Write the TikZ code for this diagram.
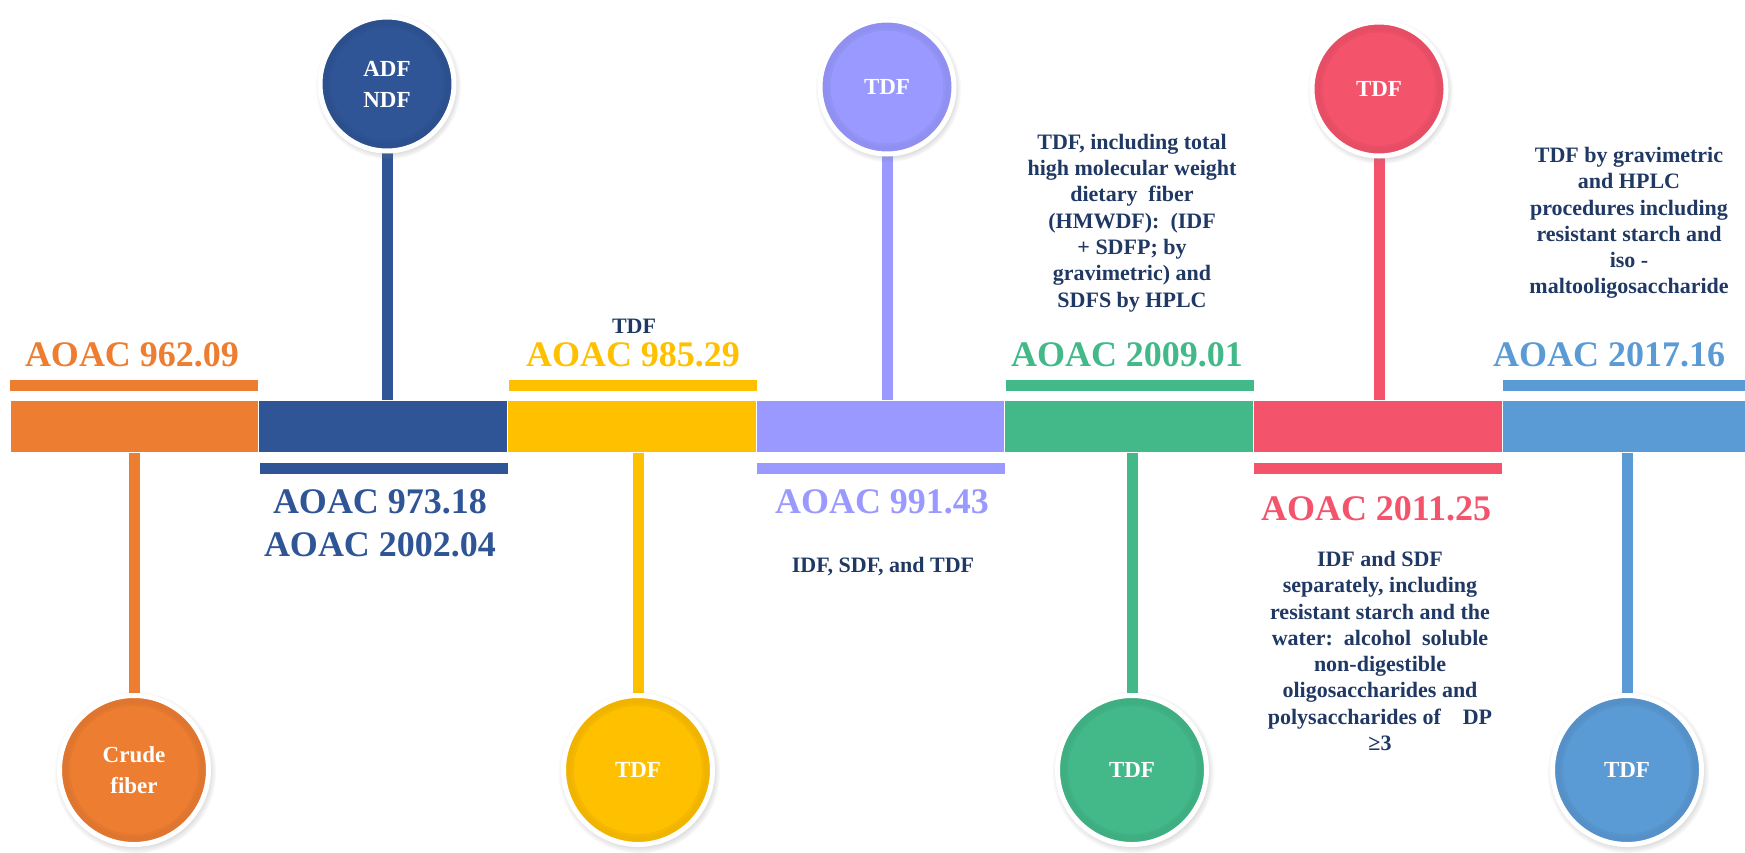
\documentclass[tikz,border=0pt]{standalone}
\usepackage{fontspec}
\setmainfont{Liberation Serif}
\usetikzlibrary{shadows,backgrounds,fadings}
\definecolor{cOr}{HTML}{ED7D31}
\definecolor{cBl}{HTML}{2F5597}
\definecolor{cYe}{HTML}{FFC000}
\definecolor{cPu}{HTML}{9999FF}
\definecolor{cGr}{HTML}{43B98A}
\definecolor{cRe}{HTML}{F4536C}
\definecolor{cLb}{HTML}{5B9BD5}
\definecolor{navy}{HTML}{203864}
\tikzset{
  seg/.style={rectangle, fill=#1, draw=white, line width=0.8pt, minimum width=248.67pt, minimum height=52pt, inner sep=0pt, outer sep=0pt, anchor=north west},
  thinbar/.style={rectangle, fill=#1, minimum width=248pt, minimum height=11pt, inner sep=0pt, outer sep=0pt, anchor=north west},
  stem/.style={draw=#1, line width=11pt},
  bubble/.style={circle, fill=#1, draw=white, line width=5pt, inner sep=0pt,
    circular drop shadow={shadow scale=1.09, shadow xshift=1pt, shadow yshift=-2pt, opacity=0.45},
    text=white, font=\bfseries\fontsize{23}{31}\selectfont, align=center},
  bubtop/.style={bubble=#1, minimum size=134pt,
    path picture={\draw[black, opacity=0.06, line width=5pt] (path picture bounding box.center) circle (62pt);
                  \draw[black, opacity=0.04, line width=3pt] (path picture bounding box.center) circle (58pt);}},
  bubbot/.style={bubble=#1, minimum size=149pt,
    path picture={\draw[black, opacity=0.06, line width=5pt] (path picture bounding box.center) circle (69.5pt);
                  \draw[black, opacity=0.04, line width=3pt] (path picture bounding box.center) circle (65.5pt);}},
  code/.style={text=#1, font=\bfseries\fontsize{36}{43}\selectfont, anchor=base, inner sep=0pt},
  note/.style={text=navy, font=\bfseries\fontsize{22}{26.3}\selectfont, align=center, inner sep=0pt},
}
\begin{document}
\begin{tikzpicture}[x=1pt, y=-1pt]
\useasboundingbox (0,0) rectangle (1745,852);
% main bar segments
\node[seg=cOr] (s1) at (10,400) {};
\node[seg=cBl] (s2) at (258.67,400) {};
\node[seg=cYe] (s3) at (507.33,400) {};
\node[seg=cPu] (s4) at (756,400) {};
\node[seg=cGr] (s5) at (1004.67,400) {};
\node[seg=cRe] (s6) at (1253.33,400) {};
\node[seg=cLb] (s7) at (1502,400) {};
% thin bars
\node[thinbar=cOr] (t1) at (10,380) {};
\node[thinbar=cBl] (t2) at (260,463) {};
\node[thinbar=cYe] (t3) at (508.5,380) {};
\node[thinbar=cPu] (t4) at (757,463) {};
\node[thinbar=cGr] (t5) at (1005.5,380) {};
\node[thinbar=cRe] (t6) at (1254,463) {};
\node[thinbar=cLb] (t7) at (1503,380) {};
% bubbles
\node[bubbot=cOr] (c1) at (134,770) {Crude\\fiber};
\node[bubtop=cBl] (c2) at (387,84) {ADF\\NDF};
\node[bubbot=cYe] (c3) at (638,770) {TDF};
\node[bubtop=cPu] (c4) at (887,87) {TDF};
\node[bubbot=cGr] (c5) at (1132,770) {TDF};
\node[bubtop=cRe] (c6) at (1379,89) {TDF};
\node[bubbot=cLb] (c7) at (1627,770) {TDF};
% stems
\begin{scope}[on background layer]
\draw[stem=cOr] (c1 |- s1.south) -- (c1.center);
\draw[stem=cBl] (c2.center) -- (c2 |- s2.north);
\draw[stem=cYe] (c3 |- s3.south) -- (c3.center);
\draw[stem=cPu] (c4.center) -- (c4 |- s4.north);
\draw[stem=cGr] (c5 |- s5.south) -- (c5.center);
\draw[stem=cRe] (c6.center) -- (c6 |- s6.north);
\draw[stem=cLb] (c7 |- s7.south) -- (c7.center);
\end{scope}
% codes
\node[code=cOr] (l1) at (132,366) {AOAC 962.09};
\node[code=cBl] (l2a) at (380,513) {AOAC 973.18};
\node[code=cBl] (l2b) at (380,556) {AOAC 2002.04};
\node[code=cYe] (l3) at (633,366) {AOAC 985.29};
\node[code=cPu] (l4) at (882,513) {AOAC 991.43};
\node[code=cGr] (l5) at (1127,366) {AOAC 2009.01};
\node[code=cRe] (l6) at (1376,520) {AOAC 2011.25};
\node[code=cLb] (l7) at (1609,366) {AOAC 2017.16};
% notes
\node[note] (n3) at (634,326) {TDF};
\node[note] (n4) at (883,567) {IDF, SDF, and TDF};
\node[note] (n5) at (1132,223) {TDF, including total\\high molecular weight\\dietary\ \ fiber\\(HMWDF):\ \ (IDF\\+ SDFP; by\\gravimetric) and\\SDFS by HPLC};
\node[note] (n6) at (1380,651) {IDF and SDF\\separately, including\\resistant starch and the\\water:\ \ alcohol\ \ soluble\\non-digestible\\oligosaccharides and\\polysaccharides of\ \ \ \ DP\\≥3};
\node[note] (n7) at (1629,223) {TDF by gravimetric\\and HPLC\\procedures including\\resistant starch and\\iso -\\maltooligosaccharide};
\end{tikzpicture}
\end{document}
